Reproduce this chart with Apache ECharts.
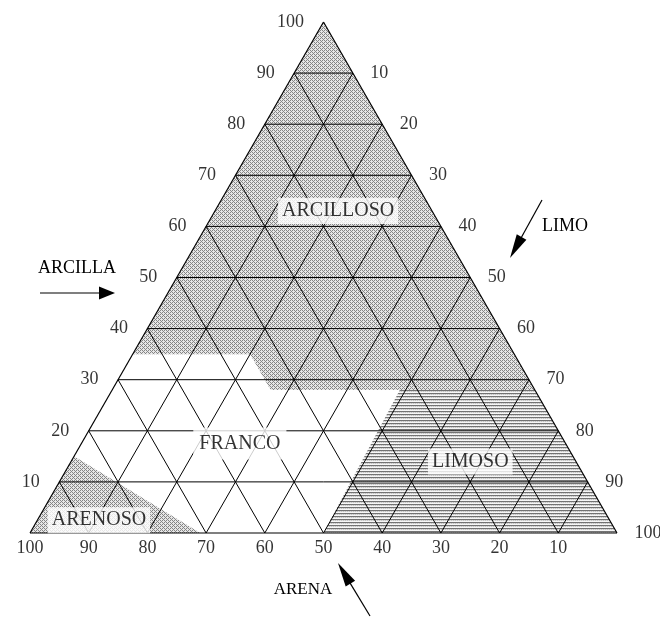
<!DOCTYPE html>
<html><head><meta charset="utf-8">
<script src="https://cdn.jsdelivr.net/npm/echarts@6/dist/echarts.min.js"></script>
<style>html,body{margin:0;padding:0;background:#fff}#chart{width:660px;height:618px}</style>
</head><body><div id="chart"></div>
<script>
// Ternary points are [sand, silt, clay] in %
const gridLevels = [10, 20, 30, 40, 50, 60, 70, 80, 90];
const clayTicks = [10, 20, 30, 40, 50, 60, 70, 80, 90, 100];   // ARCILLA (left side)
const siltTicks = [10, 20, 30, 40, 50, 60, 70, 80, 90, 100];   // LIMO (right side)
const sandTicks = [100, 90, 80, 70, 60, 50, 40, 30, 20, 10];   // ARENA (bottom)
const arcillosoRegion = [[65, 0, 35], [0, 0, 100], [0, 72, 28], [45, 27, 28], [45, 20, 35]];
const limosoRegion = [[50, 50, 0], [0, 100, 0], [0, 72, 28], [23, 49, 28]];
const arenosoRegion = [[100, 0, 0], [85, 0, 15], [71, 29, 0]];
const regionNames = ['ARCILLOSO', 'FRANCO', 'LIMOSO', 'ARENOSO'];
const regionLabelPos = [[16, 21, 63], [56, 27, 17.5], [18, 68, 14], [87, 10.5, 2.5]];
const axisNames = ['ARCILLA', 'LIMO', 'ARENA'];

const SERIF = '"Liberation Serif", "Times New Roman", serif';
function toXY(p) { return [p[1] + p[2] / 2, p[2]]; }

// textures
function makePattern(w, h, fn) {
  const c = document.createElement('canvas');
  c.width = w; c.height = h;
  const ctx = c.getContext('2d');
  for (let y = 0; y < h; y++) for (let x = 0; x < w; x++) {
    ctx.fillStyle = fn(x, y); ctx.fillRect(x, y, 1, 1);
  }
  return { image: c, repeat: 'repeat' };
}
const bayer = [[0, 8, 2, 10], [12, 4, 14, 6], [3, 11, 1, 9], [15, 7, 13, 5]];
const stipple = makePattern(4, 4, (x, y) => (bayer[y][x] < 6 ? '#858585' : '#e6e6e6'));
const hatch = makePattern(4, 3, (x, y) => (y === 0 ? '#737373' : (y === 1 ? (x % 2 ? '#c4c4c4' : '#dedede') : '#f6f6f6')));

// grid segments
const segments = [];
gridLevels.forEach(v => {
  segments.push([...toXY([100 - v, 0, v]), ...toXY([0, 100 - v, v])]);   // clay constant
  segments.push([...toXY([100 - v, v, 0]), ...toXY([0, v, 100 - v])]);   // silt constant
  segments.push([...toXY([v, 100 - v, 0]), ...toXY([v, 0, 100 - v])]);   // sand constant
});
const border = [
  [...toXY([100, 0, 0]), ...toXY([0, 100, 0])],
  [...toXY([100, 0, 0]), ...toXY([0, 0, 100])],
  [...toXY([0, 100, 0]), ...toXY([0, 0, 100])]
];

function regionSeries(pts, fill) {
  return {
    type: 'custom', coordinateSystem: 'cartesian2d', silent: true, z: 1, clip: false,
    data: [[0, 0]],
    renderItem: (params, api) => ({
      type: 'polygon',
      shape: { points: pts.map(p => api.coord(toXY(p))) },
      style: { fill: fill, stroke: null }
    })
  };
}
function segSeries(data, width, z) {
  return {
    type: 'custom', coordinateSystem: 'cartesian2d', silent: true, z: z, clip: false,
    encode: { x: [0, 2], y: [1, 3] },
    data: data,
    renderItem: (params, api) => {
      const a = api.coord([api.value(0), api.value(1)]);
      const b = api.coord([api.value(2), api.value(3)]);
      return { type: 'line', shape: { x1: a[0], y1: a[1], x2: b[0], y2: b[1] }, style: { stroke: '#000', lineWidth: width } };
    }
  };
}
function labelSeries(data, labelOpt, z) {
  return {
    type: 'scatter', silent: true, z: z, symbolSize: 1,
    itemStyle: { color: 'rgba(0,0,0,0)' },
    data: data,
    label: Object.assign({ show: true, formatter: '{b}', fontFamily: SERIF, fontSize: 18, color: '#000' }, labelOpt)
  };
}
function arrow(tail, tip, headLen, half) {
  const dx = tip[0] - tail[0], dy = tip[1] - tail[1];
  const L = Math.hypot(dx, dy), ux = dx / L, uy = dy / L;
  const bx = tip[0] - ux * headLen, by = tip[1] - uy * headLen;
  return [
    { type: 'line', shape: { x1: tail[0], y1: tail[1], x2: bx + ux * 2, y2: by + uy * 2 }, style: { stroke: '#000', lineWidth: 1.2 } },
    { type: 'polygon', shape: { points: [[bx - uy * half, by + ux * half], tip, [bx + uy * half, by - ux * half]] }, style: { fill: '#000' } }
  ];
}

const chart = echarts.init(document.getElementById('chart'));
chart.setOption({
  animation: false,
  backgroundColor: '#fff',
  grid: { left: 30, top: 22, width: 587, height: 511 },
  xAxis: { type: 'value', min: 0, max: 100, show: false },
  yAxis: { type: 'value', min: 0, max: 100, show: false },
  series: [
    regionSeries(arcillosoRegion, stipple),
    regionSeries(limosoRegion, hatch),
    regionSeries(arenosoRegion, stipple),
    segSeries(segments, 1, 3),
    segSeries(border, 1.2, 4),
    labelSeries(regionNames.map((n, i) => ({
      name: n, value: toXY(regionLabelPos[i]),
      label: i === 1 ? { padding: [3, 6, 9, 6] } : undefined
    })), { position: 'inside', fontSize: 20, backgroundColor: '#fff', padding: [3, 4, 3, 4] }, 6),
    labelSeries(clayTicks.map(c => ({ name: String(c), value: toXY([100 - c, 0, c]) })),
      { position: 'left', distance: 19 }, 5),
    labelSeries(siltTicks.map(s => ({ name: String(s), value: toXY([0, s, 100 - s]) })),
      { position: 'right', distance: 17 }, 5),
    labelSeries(sandTicks.map(a => ({ name: String(a), value: toXY([a, 100 - a, 0]) })),
      { position: 'bottom', distance: 6 }, 5)
  ],
  graphic: [
    { type: 'text', x: 77, y: 268, style: { text: axisNames[0], font: '18px ' + SERIF, textAlign: 'center', textVerticalAlign: 'middle', fill: '#000' } },
    ...arrow([40, 293], [115, 293], 16, 6.5),
    { type: 'text', x: 565, y: 226, style: { text: axisNames[1], font: '18px ' + SERIF, textAlign: 'center', textVerticalAlign: 'middle', fill: '#000' } },
    ...arrow([542, 200], [510, 258], 24, 5.5),
    { type: 'text', x: 303, y: 590, style: { text: axisNames[2], font: '17px ' + SERIF, textAlign: 'center', textVerticalAlign: 'middle', fill: '#000' } },
    ...arrow([370, 616], [338, 563], 24, 5.5)
  ]
});
</script></body></html>
